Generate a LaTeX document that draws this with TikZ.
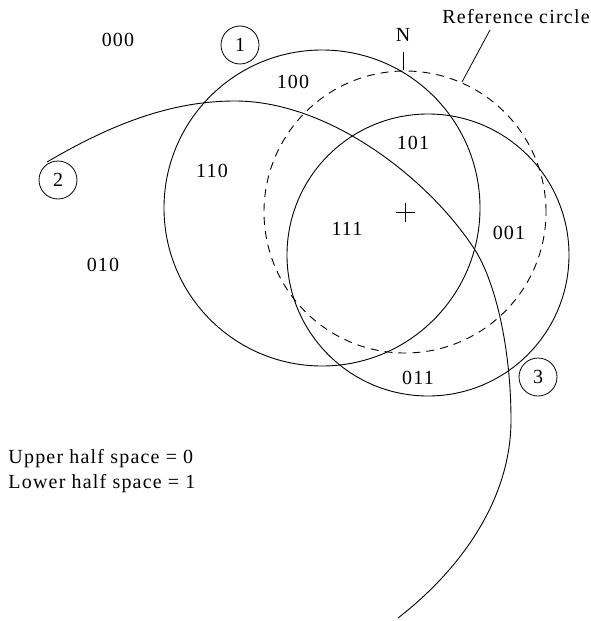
\documentclass[tikz,border=0pt]{standalone}
\usepackage{fontspec}
\setmainfont{Liberation Serif}[LetterSpace=6]
\begin{document}
\begin{tikzpicture}[x=1pt,y=-1pt, line width=0.9pt,
  lbl/.style={font=\fontsize{20}{24}\selectfont, inner sep=0pt},
  numc/.style={draw, circle, minimum size=38pt, inner sep=0pt, line width=0.8pt, font=\fontsize{20}{24}\selectfont},
  refc/.style={dash pattern=on 8pt off 6pt}]
\useasboundingbox (0,0) rectangle (591,621);
% circles
\coordinate (c1) at (322,208);
\coordinate (cr) at (405,212);
\coordinate (c3) at (428,255);
\draw (c1) circle[radius=158pt];
\draw[refc] (cr) circle[radius=141pt];
\draw (c3) circle[radius=141pt];
% curve 2
\coordinate (k0) at (47,162);
\coordinate (k1) at (235,101);
\coordinate (k2) at (475,250);
\coordinate (k3) at (511,420);
\coordinate (k4) at (398,618);
\draw (k0) .. controls (110,125) and (170,101) .. (k1)
           .. controls (330,101) and (430,180) .. (k2)
           .. controls (496,283) and (511,350) .. (k3)
           .. controls (511,500) and (460,570) .. (k4);
% centre cross
\draw (395.5,212) -- (414.5,212);
\draw (405,202.5) -- (405,221.5);
% N tick
\coordinate (nt) at (403,70);
\coordinate (nb) at (403,52);
\draw (nb) -- (nt);
\node[lbl] (N) at (403,35) {N};
% reference circle label
\node[lbl] (reflab) at (516,17) {Reference circle};
\coordinate (rl1) at (490,30);
\coordinate (rl2) at (462,82);
\draw[line width=0.8pt] (rl1) -- (rl2);
% numbered circles
\node[numc] (n1) at (240,45) {1};
\node[numc] (n2) at (58,180) {2};
\node[numc] (n3) at (538,377) {3};
% region labels
\node[lbl] (r000) at (118,40) {000};
\node[lbl] (r100) at (293,82) {100};
\node[lbl] (r110) at (212,171) {110};
\node[lbl] (r101) at (413,143) {101};
\node[lbl] (r111) at (347,229) {111};
\node[lbl] (r001) at (509,233) {001};
\node[lbl] (r010) at (103,265) {010};
\node[lbl] (r011) at (418,378) {011};
% legend
\node[lbl, anchor=base west] (up) at (8,463) {Upper half space = 0};
\node[lbl, anchor=base west] (lo) at (8,488) {Lower half space = 1};
\end{tikzpicture}
\end{document}
